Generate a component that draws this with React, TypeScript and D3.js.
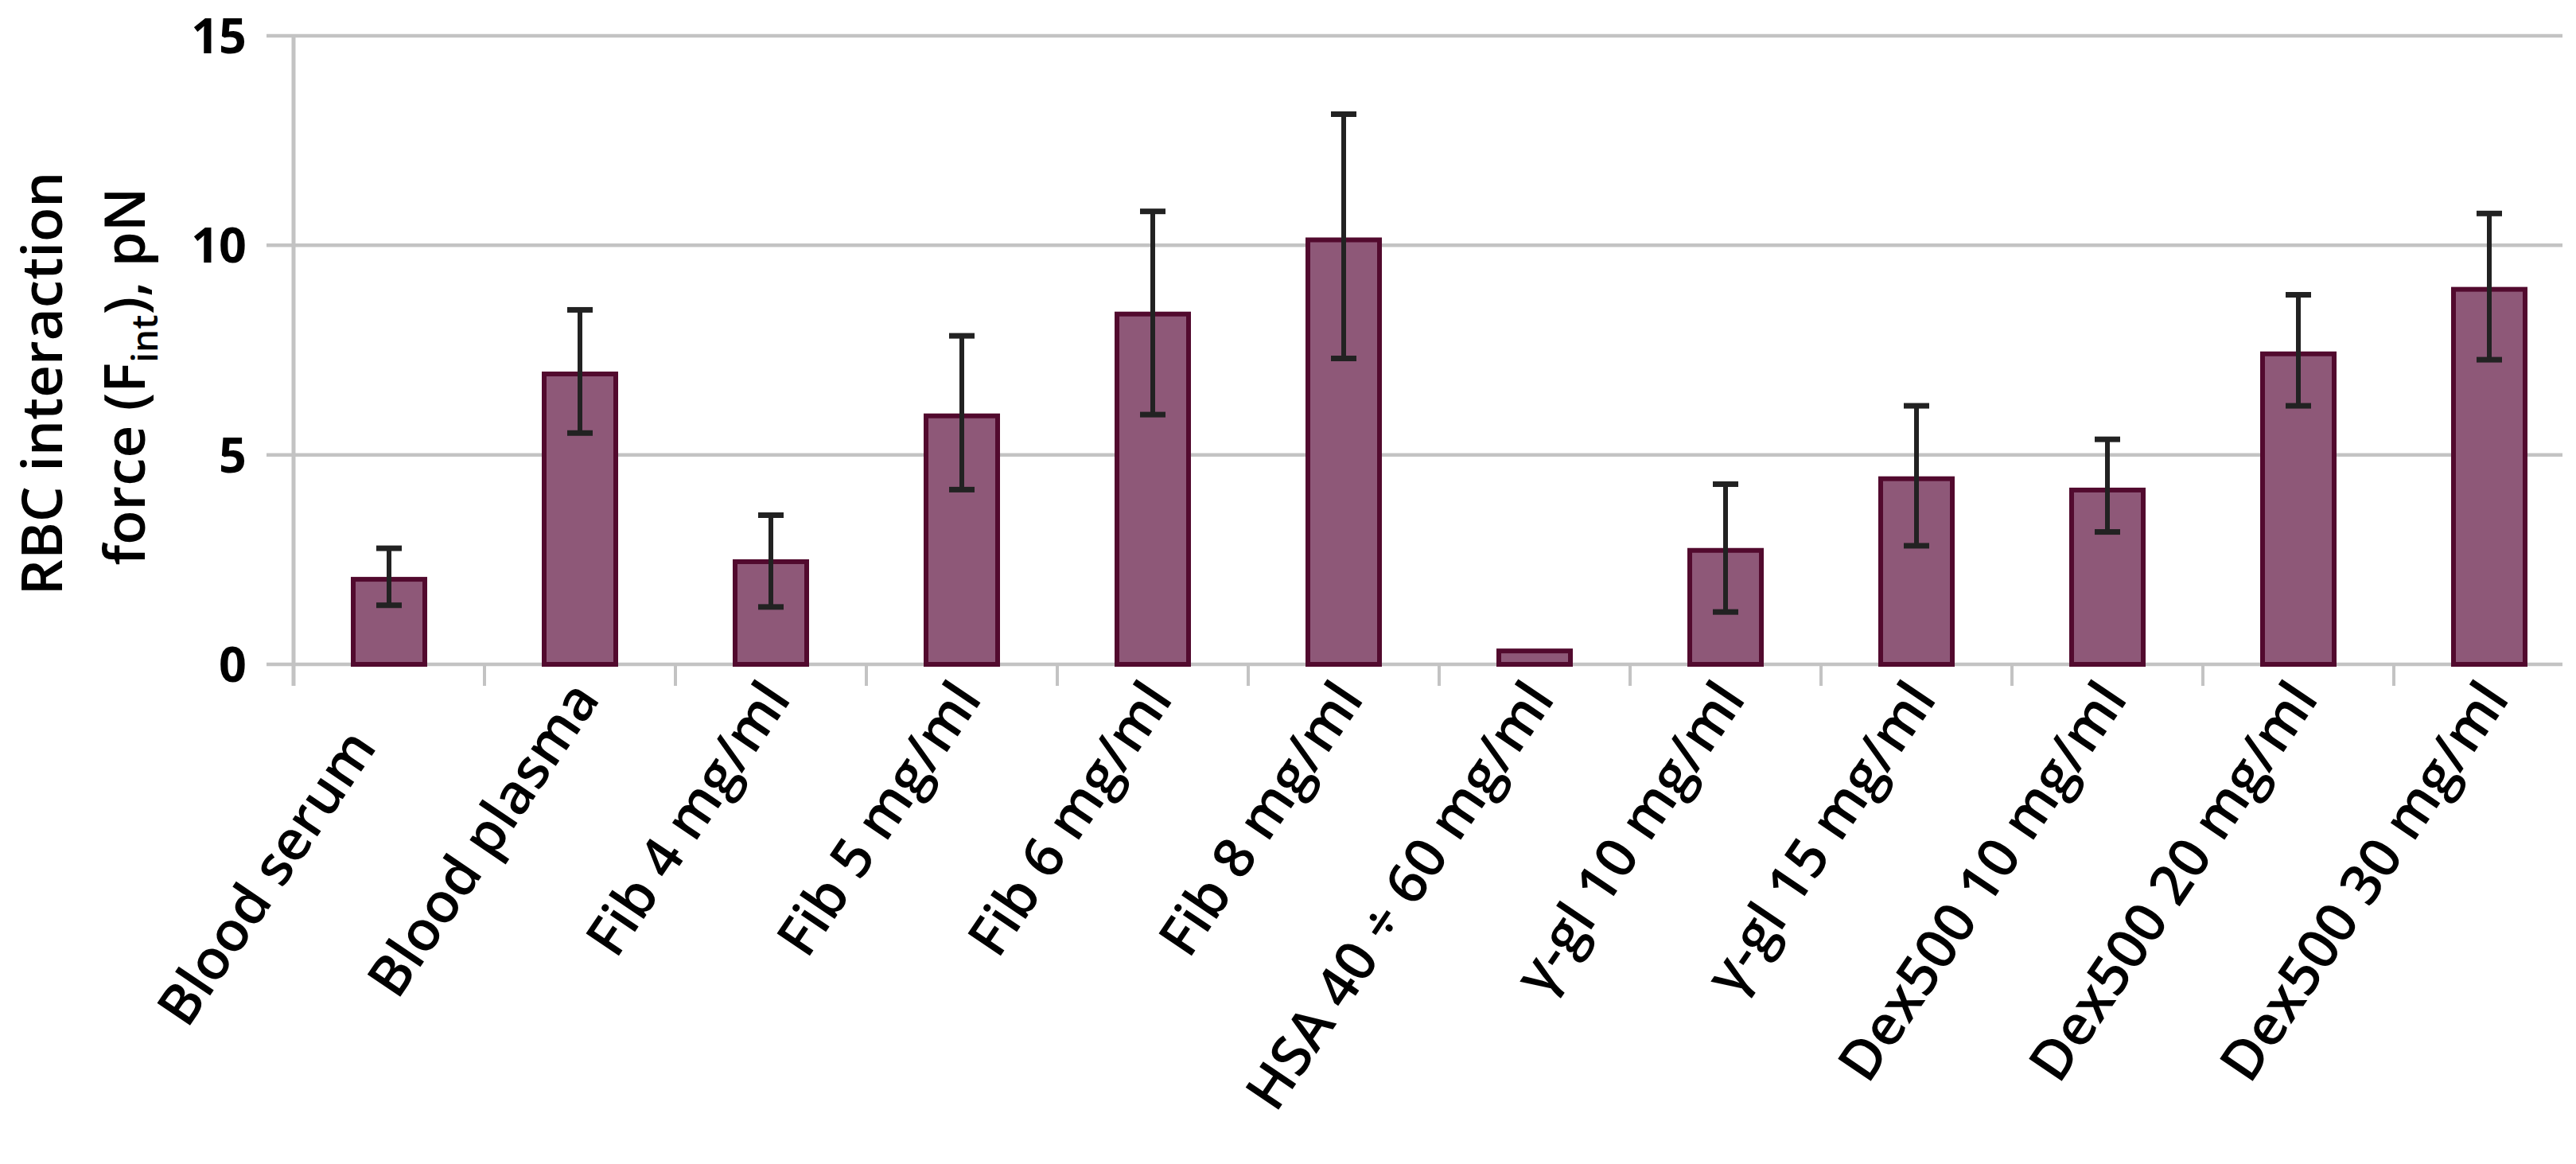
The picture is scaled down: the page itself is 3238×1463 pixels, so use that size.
import React from "react";
import * as d3 from "d3";

const categories: string[] = [
  "Blood serum\u00a0\u00a0\u00a0\u00a0",
  "Blood plasma",
  "Fib 4 mg/ml",
  "Fib 5 mg/ml",
  "Fib 6 mg/ml",
  "Fib 8 mg/ml",
  "HSA 40 ÷ 60 mg/ml",
  "γ-gl 10 mg/ml",
  "γ-gl 15 mg/ml",
  "Dex500 10 mg/ml",
  "Dex500 20 mg/ml",
  "Dex500 30 mg/ml",
];
const values: number[] = [2.03, 6.93, 2.45, 5.93, 8.36, 10.13, 0.32, 2.72, 4.43, 4.16, 7.41, 8.95];
const errUpper: (number | null)[] = [2.77, 8.46, 3.56, 7.84, 10.81, 13.13, null, 4.3, 6.17, 5.37, 8.82, 10.76];
const errLower: (number | null)[] = [1.41, 5.52, 1.37, 4.17, 5.96, 7.3, null, 1.25, 2.83, 3.16, 6.17, 7.27];
const yTicks: number[] = [0, 5, 10, 15];

const W = 3238;
const H = 1463;
const left = 369;
const right = 3249;
const gridEnd = 3221;
const top = 45;
const bottom = 835;

export default function App() {
  const x = d3
    .scaleBand<string>()
    .domain(categories)
    .range([left, right])
    .paddingInner(0.625)
    .paddingOuter(0.3125);
  const y = d3.scaleLinear().domain([0, 15]).range([bottom, top]);
  const step = x.step();
  const bw = x.bandwidth();
  const boundaries = d3.range(1, categories.length).map((i) => left + i * step);

  const gridColor = "#c3c3c3";
  const font = "'Open Sans', sans-serif";

  return (
    <svg
      width={W}
      height={H}
      viewBox={`0 0 ${W} ${H}`}
      style={{ position: "absolute", left: 0, top: 0, background: "#fff" }}
    >
      <rect x={0} y={0} width={W} height={H} fill="#fff" />
      {yTicks.map((t) => (
        <line
          key={"g" + t}
          x1={left - 34}
          x2={gridEnd}
          y1={y(t)}
          y2={y(t)}
          stroke={gridColor}
          strokeWidth={4.5}
        />
      ))}
      <line x1={left} x2={left} y1={top} y2={bottom + 27} stroke={gridColor} strokeWidth={5} />
      {boundaries.map((b, i) => (
        <line key={"xt" + i} x1={b} x2={b} y1={bottom} y2={bottom + 27} stroke={gridColor} strokeWidth={4} />
      ))}
      {yTicks.map((t) => (
        <text
          key={"yl" + t}
          x={310}
          y={y(t)}
          dy="0.36em"
          textAnchor="end"
          fontFamily={font}
          fontWeight={700}
          fontSize={61}
          fill="#000"
        >
          {t}
        </text>
      ))}
      {categories.map((c, i) => (
        <rect
          key={"b" + i}
          x={x(c)!}
          y={y(values[i])}
          width={bw}
          height={y(0) - y(values[i])}
          fill="#8e5878"
          stroke="#520a2e"
          strokeWidth={6}
        />
      ))}
      {categories.map((c, i) => {
        const hi = errUpper[i];
        const lo = errLower[i];
        if (hi == null || lo == null) return null;
        const cx = x(c)! + bw / 2;
        return (
          <g key={"e" + i} stroke="#222">
            <line x1={cx} x2={cx} y1={y(hi)} y2={y(lo)} strokeWidth={6} />
            <line x1={cx - 16} x2={cx + 16} y1={y(hi)} y2={y(hi)} strokeWidth={7} />
            <line x1={cx - 16} x2={cx + 16} y1={y(lo)} y2={y(lo)} strokeWidth={7} />
          </g>
        );
      })}
      {categories.map((c, i) => {
        const cx = x(c)! + bw / 2 + 8;
        const ty = 866;
        return (
          <text
            key={"xl" + i}
            transform={`translate(${cx},${ty}) rotate(-56)`}
            textAnchor="end"
            dy="0.32em"
            fontFamily={font}
            fontWeight={600}
            fontSize={70}
            fill="#000"
          >
            {c}
          </text>
        );
      })}
      <text
        transform={`translate(78,482) rotate(-90)`}
        textAnchor="middle"
        fontFamily={font}
        fontWeight={600}
        fontSize={71}
        fill="#000"
      >
        RBC interaction
      </text>
      <text
        transform={`translate(182,473) rotate(-90)`}
        textAnchor="middle"
        fontFamily={font}
        fontWeight={600}
        fontSize={71}
        fill="#000"
      >
        force (F
        <tspan fontSize={46} dy={16}>
          int
        </tspan>
        <tspan dy={-16}>), pN</tspan>
      </text>
    </svg>
  );
}
